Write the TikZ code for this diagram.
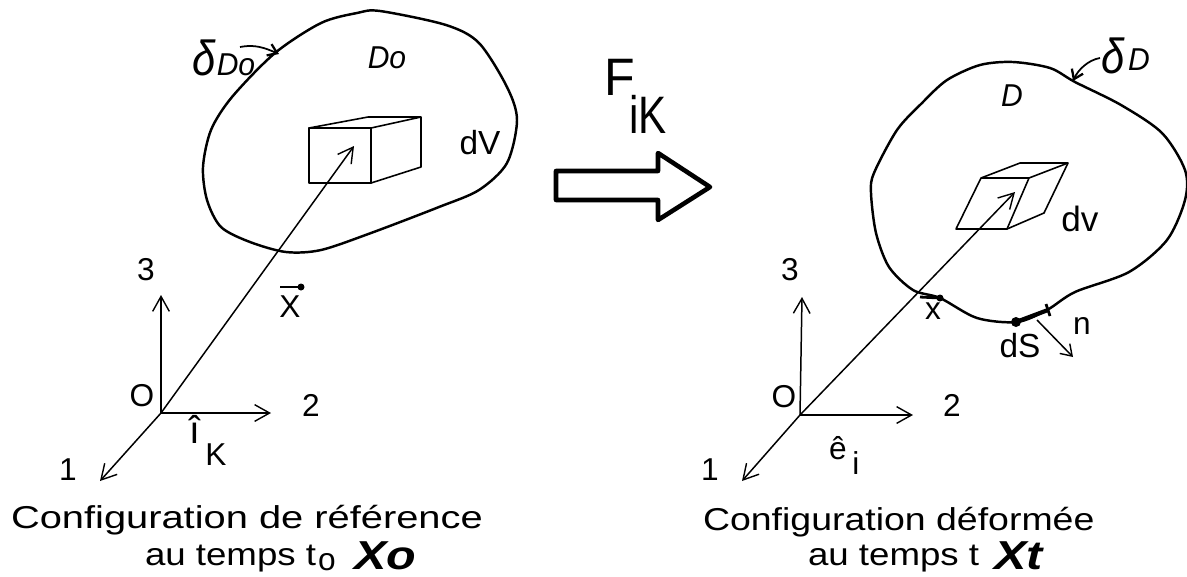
\documentclass[tikz,border=0pt]{standalone}
\usepackage{fontspec}
\setmainfont{Liberation Sans}
\usetikzlibrary{arrows.meta}
\begin{document}
\begin{tikzpicture}[
    x=0.02cm, y=-0.02cm,
    every node/.append style={inner sep=0pt, outer sep=0pt},
    blob/.style={draw, line width=1.4pt, line join=round},
    cube/.style={draw, line width=0.9pt, line join=round},
    axis/.style={draw, line width=0.85pt, -{Straight Barb[length=8.5pt,width=9.5pt,line width=0.8pt]}},
    handarrow/.style={draw, line width=1pt, -{Straight Barb[length=5pt,width=7pt,line width=1.3pt]}},
    bararrow/.style={draw, line width=1.6pt},
    lab/.style={font=\fontsize{18}{18}\selectfont},
    captext/.style={font=\fontsize{18}{18}\selectfont, anchor=west, xscale=1.26, transform shape},
    capbold/.style={font=\fontsize{23}{23}\selectfont\bfseries\itshape, anchor=west, xscale=1.2, transform shape},
    hand/.style={font=\fontsize{18}{18}\selectfont\itshape, xscale=0.95, transform shape},
    deltahand/.style={font=\fontsize{28}{28}\selectfont\itshape, xscale=0.85, transform shape},
]
\useasboundingbox (0,0) rectangle (1187,576);

% reference configuration
\draw[blob] plot[smooth cycle] coordinates {(380,11) (446,25) (479,43) (507,87) (517,120) (507,163)
    (479,190) (439,207) (371,233) (321,250) (286,252) (250,242) (221,227) (207,200) (203,167)
    (211,130) (232,97) (275,53) (321,23) (357,13)};
\draw[cube] (309,128) rectangle (371,183);
\draw[cube] (309,128) -- (368,117) -- (421,117) -- (421,167) -- (371,183);
\draw[cube] (371,128) -- (421,117);

\coordinate (o0) at (161,413);
\coordinate (a1) at (100,481);
\coordinate (a2) at (271,413);
\coordinate (a3) at (161,295);
\coordinate (tip0) at (354,146);
\draw[axis] (o0) -- (a1);
\draw[axis] (o0) -- (a2);
\draw[axis] (o0) -- (a3);
\draw[axis] (o0) -- (tip0);

\node[lab] (three0) at (146,270) {3};
\node[lab] (zero0) at (142,396) {O};
\node[lab] (two0) at (311,405) {2};
\node[lab] (one0) at (68,470) {1};
\node[lab] (x0) at (290,307) {X};
\coordinate (xa) at (280,287);
\coordinate (xb) at (301,287);
\draw[bararrow] (xa) -- (xb);
\fill (xb) circle (3.5);
\node[lab, font=\fontsize{22}{22}\selectfont] (ik) at (195,429) {î};
\node[lab] (k0) at (216,455) {K};
\node[lab, font=\fontsize{19}{19}\selectfont] (dvol0) at (480,143) {dV};
\node[hand] (do0) at (387,58) {Do};
\node[deltahand] (bdelta0) at (204,58) {δ};
\node[hand] (bdo) at (236,65) {Do};
\coordinate (bd0) at (240,47);
\coordinate (bd1) at (279,54);
\draw[handarrow] (bd0) .. controls (255,44) and (265,48) .. (bd1);

\node[captext] (cap0a) at (11,520) {Configuration de référence};
\node[captext, xscale=0.92] (cap0b) at (145,559) {au temps t};
\node[lab] (sub0) at (327,562) {o};
\node[capbold] (xo) at (354,556) {Xo};

% big arrow
\draw[line width=2.6pt, line join=round] (556,171) -- (658,171) -- (658,153) -- (710,187)
    -- (658,220) -- (658,200) -- (556,200) -- cycle;
\node[font=\fontsize{30}{30}\selectfont, xscale=0.95, transform shape] (fk) at (620,77) {F};
\node[font=\fontsize{30}{30}\selectfont, xscale=0.8, transform shape] (ikk) at (648,114) {iK};

% deformed configuration
\draw[blob] plot[smooth cycle] coordinates {(1013,62) (1050,68) (1075,82) (1121,105) (1162,133)
    (1185,170) (1185,200) (1167,240) (1129,272) (1075,292) (1047,310) (1017,322) (977,318)
    (940,298) (913,290) (889,267) (876,233) (871,193) (874,173) (897,130) (922,103) (947,80) (980,65)};
\draw[cube] (981,178) -- (1029,178) -- (1007,229) -- (956,229) -- cycle;
\draw[cube] (981,178) -- (1020,163) -- (1068,163) -- (1044,213) -- (1007,229);
\draw[cube] (1029,178) -- (1068,163);

\coordinate (o1) at (800,415);
\coordinate (b1) at (742,481);
\coordinate (b2) at (913,415);
\coordinate (b3) at (802,297);
\coordinate (tip1) at (1015,192);
\draw[axis] (o1) -- (b1);
\draw[axis] (o1) -- (b2);
\draw[axis] (o1) -- (b3);
\draw[axis] (o1) -- (tip1);

\node[lab] (three1) at (790,270) {3};
\node[lab] (zero1) at (784,397) {O};
\node[lab] (two1) at (952,405) {2};
\node[lab] (one1) at (710,470) {1};
\node[lab] (x1) at (933,311) {x};
\coordinate (xc) at (920,297);
\coordinate (xd) at (940,298);
\draw[bararrow] (xc) -- (xd);
\fill (xd) circle (3.5);
\node[lab] (ei) at (838,448) {ê};
\node[lab] (i1) at (856,463) {i};
\node[lab, font=\fontsize{20}{20}\selectfont] (dvol1) at (1080,219) {dv};
\node[lab, font=\fontsize{19}{19}\selectfont] (ds) at (1020,346) {dS};
\node[lab] (nn) at (1082,326) {n};
\coordinate (ds0) at (1016,322);
\coordinate (ds1) at (1048,310);
\coordinate (n0) at (1037,320);
\coordinate (n1) at (1073,357);
\draw[line width=2.4pt] (ds0) -- (ds1);
\fill (ds0) circle (5);
\draw[line width=1.6pt] (1046,304) -- (1050,316);
\draw[axis, -{Straight Barb[length=6pt,width=8pt,line width=0.8pt]}] (n0) -- (n1);
\node[hand] (dd) at (1012,96) {D};
\node[deltahand] (bdelta1) at (1113,56) {δ};
\node[hand] (bdd) at (1139,60) {D};
\coordinate (be0) at (1100,58);
\coordinate (be1) at (1073,81);
\draw[handarrow] (be0) .. controls (1088,60) and (1078,70) .. (be1);

\node[captext, xscale=0.94] (cap1a) at (703,522) {Configuration déformée};
\node[captext, xscale=0.92] (cap1b) at (808,559) {au temps t};
\node[capbold] (xt) at (994,556) {Xt};

\end{tikzpicture}
\end{document}
